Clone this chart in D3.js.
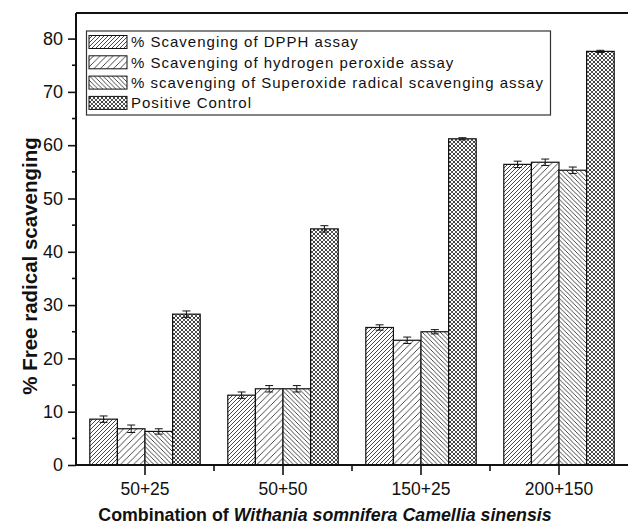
<!DOCTYPE html>
<html>
<head>
<meta charset="utf-8">
<script src="https://d3js.org/d3.v7.min.js"></script>
<style>
body { margin: 0; background: #fff; }
svg { font-family: "Liberation Sans", Arial, sans-serif; }
</style>
</head>
<body>
<script>
// combinations (Withania somnifera + Camellia sinensis)
var combos = ["50+25", "50+50", "150+25", "200+150"];
var seriesNames = [
  "% Scavenging of DPPH assay",
  "% Scavenging of hydrogen peroxide assay",
  "% scavenging of Superoxide radical scavenging assay",
  "Positive Control"
];
// values per series, one per combo
var dpph     = [8.6, 13.1, 25.8, 56.4];
var h2o2     = [6.8, 14.3, 23.4, 56.8];
var superox  = [6.3, 14.3, 25.0, 55.3];
var positive = [28.3, 44.3, 61.2, 77.6];
// error bars (+/-)
var dpphErr     = [0.6, 0.6, 0.5, 0.6];
var h2o2Err     = [0.7, 0.6, 0.6, 0.6];
var superoxErr  = [0.5, 0.6, 0.4, 0.6];
var positiveErr = [0.6, 0.6, 0.2, 0.2];
var yTicks = [0, 10, 20, 30, 40, 50, 60, 70, 80];

var seriesVals = [dpph, h2o2, superox, positive];
var seriesErrs = [dpphErr, h2o2Err, superoxErr, positiveErr];

var width = 628, height = 526;
var mLeft = 76, mRight = 628, mTop = 13, mBottom = 465;

var svg = d3.select("body").append("svg")
    .attr("width", width)
    .attr("height", height);

// hatch patterns
var defs = svg.append("defs");
function hatch(id, size, dir) {
  var p = defs.append("pattern")
      .attr("id", id)
      .attr("patternUnits", "userSpaceOnUse")
      .attr("width", size).attr("height", size);
  p.append("rect").attr("width", size).attr("height", size).attr("fill", "#fff");
  var d = dir > 0
    ? "M0," + size + "L" + size + ",0M-1,1L1,-1M" + (size - 1) + "," + (size + 1) + "L" + (size + 1) + "," + (size - 1)
    : "M0,0L" + size + "," + size + "M-1," + (size - 1) + "L1," + (size + 1) + "M" + (size - 1) + ",-1L" + (size + 1) + ",1";
  p.append("path").attr("d", d).attr("stroke", "#333").attr("stroke-width", 0.9);
}
hatch("p0", 4, 1);
hatch("p1", 6.5, 1);
hatch("p2", 4.5, -1);
var cp = defs.append("pattern")
    .attr("id", "p3")
    .attr("patternUnits", "userSpaceOnUse")
    .attr("width", 4).attr("height", 4);
cp.append("rect").attr("width", 4).attr("height", 4).attr("fill", "#fff");
cp.append("path").attr("d", "M0,4L4,0M0,0L4,4").attr("stroke", "#555").attr("stroke-width", 1);
cp.append("rect").attr("x", 1.5).attr("y", 1.5).attr("width", 1).attr("height", 1).attr("fill", "#000");

var x = d3.scaleBand().domain(combos).range([mLeft, mRight])
    .paddingInner(0.2).paddingOuter(0.1);
var xs = d3.scaleBand().domain(d3.range(4)).range([0, x.bandwidth()]);
var y = d3.scaleLinear().domain([0, 84.8]).range([mBottom, mTop]);

// frame top line
svg.append("line").attr("x1", mLeft).attr("x2", mRight)
    .attr("y1", mTop).attr("y2", mTop)
    .attr("stroke", "#111").attr("stroke-width", 2);

// bars
seriesVals.forEach(function(vals, s) {
  var g = svg.append("g");
  g.selectAll("rect").data(vals).enter().append("rect")
      .attr("x", function(d, i) { return x(combos[i]) + xs(s); })
      .attr("y", function(d) { return y(d); })
      .attr("width", xs.bandwidth())
      .attr("height", function(d) { return y(0) - y(d); })
      .attr("fill", "url(#p" + s + ")")
      .attr("stroke", "#111").attr("stroke-width", 1.2);
  var errs = seriesErrs[s];
  vals.forEach(function(d, i) {
    var cx = x(combos[i]) + xs(s) + xs.bandwidth() / 2;
    var e = errs[i];
    var eg = g.append("g").attr("stroke", "#111").attr("stroke-width", 1);
    eg.append("line").attr("x1", cx).attr("x2", cx).attr("y1", y(d + e)).attr("y2", y(d - e));
    eg.append("line").attr("x1", cx - 4).attr("x2", cx + 4).attr("y1", y(d + e)).attr("y2", y(d + e));
    eg.append("line").attr("x1", cx - 4).attr("x2", cx + 4).attr("y1", y(d - e)).attr("y2", y(d - e));
  });
});

// y axis
var yAxis = d3.axisLeft(y).tickValues(yTicks).tickSize(8).tickPadding(5);
var ya = svg.append("g").attr("transform", "translate(" + mLeft + ",0)").call(yAxis);
ya.select(".domain").attr("d", "M0," + mTop + "V" + mBottom).attr("stroke", "#111").attr("stroke-width", 2);
ya.selectAll(".tick line").attr("stroke", "#111").attr("stroke-width", 1.6);
ya.selectAll(".tick text").attr("font-size", 18).attr("fill", "#111")
    .attr("font-family", "Liberation Sans, Arial, sans-serif");
var yMinor = d3.range(5, 80, 10);
ya.selectAll(".minor").data(yMinor).enter().append("line")
    .attr("x1", -4).attr("x2", 0)
    .attr("y1", function(d) { return y(d); }).attr("y2", function(d) { return y(d); })
    .attr("stroke", "#111").attr("stroke-width", 1.6);

// x axis
var xAxis = d3.axisBottom(x).tickSize(10).tickPadding(8);
var xa = svg.append("g").attr("transform", "translate(0," + mBottom + ")").call(xAxis);
xa.select(".domain").attr("d", "M" + mLeft + ",0H" + mRight).attr("stroke", "#111").attr("stroke-width", 2);
xa.selectAll(".tick line").attr("stroke", "#111").attr("stroke-width", 1.6);
xa.selectAll(".tick text").attr("font-size", 17.5).attr("fill", "#111")
    .attr("font-family", "Liberation Sans, Arial, sans-serif");
var step = x.step();
var xMinor = combos.slice(1).map(function(c) { return x(c) - (step - x.bandwidth()) / 2; });
xa.selectAll(".minor").data(xMinor).enter().append("line")
    .attr("x1", function(d) { return d; }).attr("x2", function(d) { return d; })
    .attr("y1", 0).attr("y2", 6)
    .attr("stroke", "#111").attr("stroke-width", 1.6);

// axis titles
var xt = svg.append("text")
    .attr("x", 325).attr("y", 521)
    .attr("text-anchor", "middle")
    .attr("font-size", 17.8).attr("font-weight", "bold").attr("fill", "#111");
xt.append("tspan").text("Combination of ");
xt.append("tspan").attr("font-style", "italic").text("Withania somnifera Camellia sinensis");

svg.append("text")
    .attr("transform", "translate(37,266) rotate(-90)")
    .attr("text-anchor", "middle")
    .attr("font-size", 20.5).attr("font-weight", "bold").attr("fill", "#111")
    .text("% Free radical scavenging");

// legend
var lg = svg.append("g");
lg.append("rect").attr("x", 86.5).attr("y", 31).attr("width", 464).attr("height", 84)
    .attr("fill", "#fff").attr("stroke", "#333").attr("stroke-width", 1.2);
seriesNames.forEach(function(name, s) {
  var cy = 42 + s * 20.3;
  lg.append("rect").attr("x", 89).attr("y", cy - 6.5).attr("width", 38).attr("height", 13)
      .attr("fill", "url(#p" + s + ")").attr("stroke", "#111").attr("stroke-width", 1);
  lg.append("text").attr("x", 131).attr("y", cy + 5.3)
      .attr("font-size", 15).attr("letter-spacing", 1).attr("fill", "#111")
      .text(name);
});
</script>
</body>
</html>
